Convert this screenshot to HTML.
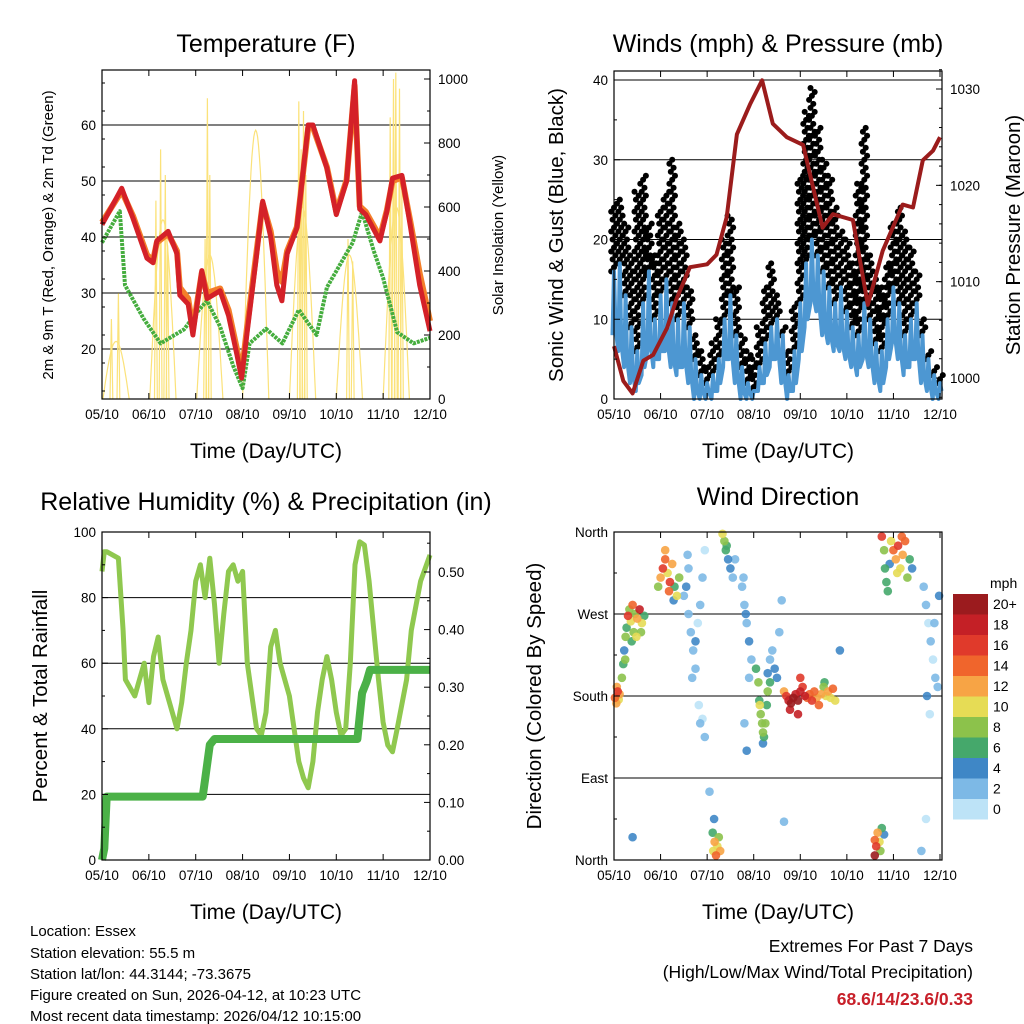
<!DOCTYPE html>
<html><head><meta charset="utf-8">
<style>
html,body{margin:0;padding:0;background:#fff;}
svg{display:block;font-family:"Liberation Sans",Arial,sans-serif;}
</style></head>
<body>
<svg id="s" width="1024" height="1024" viewBox="0 0 1024 1024">
<rect width="1024" height="1024" fill="#fff"/>
<g id="g"></g>
<text x="266" y="52" font-size="25" text-anchor="middle">Temperature (F)</text>
<text x="778" y="52" font-size="25" text-anchor="middle">Winds (mph) &amp; Pressure (mb)</text>
<text x="266" y="510" font-size="25" text-anchor="middle">Relative Humidity (%) &amp; Precipitation (in)</text>
<text x="778" y="505" font-size="25" text-anchor="middle">Wind Direction</text>
<text x="266" y="458" font-size="21" text-anchor="middle">Time (Day/UTC)</text>
<text x="778" y="458" font-size="21" text-anchor="middle">Time (Day/UTC)</text>
<text x="266" y="919" font-size="21" text-anchor="middle">Time (Day/UTC)</text>
<text x="778" y="919" font-size="21" text-anchor="middle">Time (Day/UTC)</text>
<text transform="translate(53,235) rotate(-90)" font-size="15" text-anchor="middle">2m &amp; 9m T (Red, Orange) &amp; 2m Td (Green)</text>
<text transform="translate(503,235) rotate(-90)" font-size="15" text-anchor="middle">Solar Insolation (Yellow)</text>
<text transform="translate(563,235) rotate(-90)" font-size="20.5" text-anchor="middle">Sonic Wind &amp; Gust (Blue, Black)</text>
<text transform="translate(1020,235) rotate(-90)" font-size="20.5" text-anchor="middle">Station Pressure (Maroon)</text>
<text transform="translate(47,696) rotate(-90)" font-size="20.5" text-anchor="middle">Percent &amp; Total Rainfall</text>
<text transform="translate(541,696) rotate(-90)" font-size="20.5" text-anchor="middle">Direction (Colored By Speed)</text>
<g font-size="15">
<text x="30" y="936">Location: Essex</text>
<text x="30" y="958">Station elevation: 55.5 m</text>
<text x="30" y="979">Station lat/lon: 44.3144; -73.3675</text>
<text x="30" y="1000">Figure created on Sun, 2026-04-12, at 10:23 UTC</text>
<text x="30" y="1021">Most recent data timestamp: 2026/04/12 10:15:00</text>
</g>
<g font-size="17.5" text-anchor="end">
<text x="973" y="952">Extremes For Past 7 Days</text>
<text x="973" y="978">(High/Low/Max Wind/Total Precipitation)</text>
<text x="973" y="1005" fill="#c8202a" font-weight="bold">68.6/14/23.6/0.33</text>
</g>
</svg>
<script>
// ---------- DATA ----------
const dayLabels=["05/10","06/10","07/10","08/10","09/10","10/10","11/10","12/10"];
const tempT=[0,0.42,0.66,0.96,1.09,1.17,1.41,1.6,1.66,1.84,1.94,2.13,2.24,2.52,2.7,2.88,2.98,3.09,3.3,3.43,3.6,3.73,3.84,3.95,4.16,4.4,4.5,4.8,5.0,5.22,5.39,5.5,5.63,5.93,6.08,6.2,6.4,6.58,6.78,7.0];
const temp2m=[42.2,48.7,43.4,36.2,35.4,39.3,41,37,29.6,28,22.5,34,29,30.4,26,19,14.8,22.5,36.8,46.4,40,31.4,28.6,37,41.6,60,60,52.3,44,50,67.9,45,44,39.3,44.6,50.5,51,42,31.4,23.2];
const temp9m=[42.6,48.2,43.8,36.8,35.8,39.0,40.6,37.5,31,29,23.5,33.6,30,30.8,27,20,15.5,23.5,37.5,46,41,34,32,37.5,41.8,59.5,59.6,52.5,44.5,50.2,67,45.5,44.5,40,44.8,50,50.6,42.8,33.5,25];
const dewT=[0,0.38,0.49,0.67,0.89,1.25,1.75,2.04,2.24,2.52,2.8,3.0,3.15,3.5,3.85,4.2,4.58,4.8,5.35,5.55,5.8,6.0,6.3,6.65,7.0];
const dewPt=[39,44.6,31.4,28.7,25.4,21,23.5,26.7,28.6,24,17,13,21,23.6,21,27,22.5,31,39,44.5,37.5,32.7,23,21,22];
const solarBumpT=[0.3,1.3,2.3,3.28,4.28,5.28,6.28];
const solarBumpPk=[180,560,450,840,600,450,600];
const solarSpikeT=[0.2,0.35,1.15,1.25,1.35,1.4,2.2,2.25,2.3,4.2,4.25,4.3,4.35,5.25,5.35,6.15,6.22,6.27,6.35,6.4];
const solarSpikeV=[250,330,620,780,700,480,500,940,700,930,780,900,700,500,430,880,1000,1020,970,650];
const windT=[0,0.125,0.25,0.375,0.5,0.625,0.75,0.875,1,1.125,1.25,1.375,1.5,1.625,1.75,1.875,2,2.125,2.25,2.375,2.5,2.625,2.75,2.875,3,3.125,3.25,3.375,3.5,3.625,3.75,3.875,4,4.125,4.25,4.375,4.5,4.625,4.75,4.875,5,5.125,5.25,5.375,5.5,5.625,5.75,5.875,6,6.125,6.25,6.375,6.5,6.625,6.75,6.875,7];
const windHi=[16,17,13,9,6,12,16,10,13,15,12,10,12,9,5,3,2,3,5,10,13,8,4,2,1,4,7,9,10,8,3,6,12,17,20,18,16,14,12,14,11,9,8,12,10,7,6,10,14,12,8,10,12,8,5,3,2];
const windLo=[8,6,4,2,1,3,6,4,5,6,4,3,4,2,0,0,0,0,1,4,5,2,0,0,0,1,2,4,5,2,0,1,5,9,12,11,8,7,6,6,5,4,3,5,4,2,1,4,7,5,3,4,5,2,1,0,0];
const gustHi=[24,25,22,18,26,28,22,18,24,26,30,22,20,14,8,6,4,7,10,20,23,14,8,6,5,9,14,17,13,9,6,12,28,36,39,34,30,28,24,21,20,17,27,34,18,15,14,17,22,24,21,19,16,10,6,4,3];
const presT=[0,0.2,0.4,0.63,0.84,1.14,1.35,1.63,2.0,2.2,2.42,2.64,2.92,3.18,3.41,3.71,4.06,4.48,4.7,5.13,5.45,5.77,6.2,6.42,6.63,6.85,7.0];
const presMb=[1003.3,999.7,998.4,1001.8,1002.4,1005.2,1008.3,1011.5,1011.8,1012.8,1016.7,1025.3,1028.4,1030.9,1026.4,1025,1024.2,1015.6,1017,1016.4,1007.6,1013.2,1018,1017.7,1022.6,1023.6,1025];
const rhT=[0,0.05,0.1,0.35,0.45,0.5,0.7,0.9,1.0,1.1,1.2,1.3,1.4,1.5,1.6,1.7,1.8,1.9,2.0,2.1,2.2,2.3,2.4,2.5,2.6,2.7,2.8,2.9,3.0,3.1,3.2,3.3,3.4,3.5,3.6,3.7,3.8,4.0,4.1,4.2,4.3,4.4,4.5,4.6,4.7,4.8,4.9,5.0,5.1,5.2,5.3,5.4,5.5,5.6,5.7,5.8,5.9,6.0,6.1,6.2,6.3,6.5,6.6,6.8,7.0];
const rhVal=[88,94,94,92,70,55,50,60,48,62,68,55,50,45,40,48,60,70,85,90,80,92,78,60,75,88,90,85,88,60,50,40,38,45,65,70,60,50,40,30,25,22,30,45,55,62,55,45,38,40,60,90,97,96,85,70,55,42,35,33,40,55,70,85,93];
const rainT=[0,0.05,0.1,2.15,2.2,2.3,2.4,5.45,5.5,5.55,5.65,5.72,7.0];
const rainIn=[0,0.02,0.11,0.11,0.14,0.2,0.21,0.21,0.25,0.29,0.31,0.33,0.33];
const dirT=[0.02,0.05,0.08,0.10,0.06,0.12,0.17,0.20,0.22,0.25,0.27,0.24,0.30,0.33,0.36,0.40,0.45,0.50,0.55,0.60,0.65,0.42,0.38,0.48,0.58,0.95,1.0,1.05,1.1,1.15,1.2,1.25,1.3,1.35,1.4,1.10,1.18,1.28,1.5,1.55,1.6,1.65,1.7,1.75,1.8,1.85,1.9,1.95,1.6,1.75,1.68,1.58,1.85,1.82,1.95,1.9,2.33,2.37,2.40,2.45,2.5,2.42,2.55,2.6,2.75,2.8,2.85,2.9,2.95,2.78,2.9,2.83,2.8,2.85,3.05,3.10,3.12,3.15,3.18,3.20,3.22,3.25,3.28,3.3,3.35,3.13,3.2,3.35,3.40,3.45,3.5,3.55,3.6,3.3,3.65,3.7,3.75,3.8,3.85,3.9,3.95,4.0,4.05,4.1,4.15,4.2,4.25,4.3,4.35,4.4,4.45,4.5,4.55,4.6,4.65,4.7,4.75,3.78,3.95,4.0,4.52,4.85,5.75,5.8,5.82,5.85,5.88,5.92,6.0,6.05,6.1,6.15,6.2,6.25,6.3,6.35,6.4,5.95,6.18,6.08,6.65,6.7,6.75,6.8,6.85,6.9,6.95,6.72,6.88,6.98,6.78,2.13,2.16,2.19,2.22,2.25,2.12,2.15,2.28,0.4,2.05,5.6,5.63,5.66,5.7,5.72,5.75,5.8,5.6,6.6,6.7,3.65];
const dirDeg=[178,172,185,176,190,182,200,215,230,245,255,220,268,275,262,280,270,265,275,260,268,250,240,245,250,300,310,320,330,315,305,325,300,290,310,340,295,285,290,300,270,250,230,210,260,280,310,340,320,240,200,335,150,170,135,155,358,350,340,330,320,345,310,330,300,280,260,240,220,310,200,270,150,120,210,195,175,160,150,140,135,150,170,185,195,170,128,220,230,210,200,250,285,205,185,180,175,172,178,182,175,185,190,180,178,182,175,185,178,170,182,190,180,185,178,188,175,165,160,200,195,230,355,340,320,305,295,325,340,330,345,320,335,350,310,330,320,350,355,315,300,280,260,240,220,200,190,180,260,290,160,10,20,5,15,25,30,45,10,25,75,5,15,30,20,10,35,28,22,10,45,42];
const dirMph=[14,12,16,10,13,12,8,6,4,8,6,8,16,8,10,14,8,12,18,10,6,8,6,10,8,8,12,16,14,10,16,12,6,10,8,12,14,4,2,4,2,2,2,2,0,2,2,0,2,4,2,2,2,0,2,0,10,8,6,4,4,6,2,2,2,2,2,4,2,2,2,4,2,4,6,8,6,8,8,8,6,8,6,8,6,10,4,2,2,4,4,2,2,4,12,16,18,20,20,18,20,18,16,18,14,14,16,14,12,14,12,8,10,12,10,14,10,18,18,16,6,4,16,8,6,6,6,4,14,12,16,10,12,14,8,6,4,10,14,10,2,2,0,2,0,2,2,4,2,4,0,10,12,14,10,8,6,4,12,4,2,20,16,12,10,8,6,4,14,2,0,2];
const cbLabels=["20+","18","16","14","12","10","8","6","4","2","0"];
const cbColors=["#9b1b1e","#c42026","#e03a2b","#f0652c","#f7a445","#e6dc55","#8cc24b","#45a86b","#3f87c6","#7db9e6","#bde3f7"];

// ---------- DRAWING ----------
const NS="http://www.w3.org/2000/svg";
const G=document.getElementById('g');
function el(tag,attrs,parent){const e=document.createElementNS(NS,tag);for(const k in attrs)e.setAttribute(k,attrs[k]);(parent||G).appendChild(e);return e;}
function lin(d0,d1,r0,r1){return v=>r0+(v-d0)*(r1-r0)/(d1-d0);}
function pathOf(xs,ys,fx,fy){return xs.map((t,i)=>(i?'L':'M')+fx(t).toFixed(1)+','+fy(ys[i]).toFixed(1)).join('');}

function frame(x0,y0,x1,y1,name){
  const r=el('rect',{x:x0,y:y0,width:x1-x0,height:y1-y0,fill:'none',stroke:'#000','stroke-width':1.2});
  
}
function xAxis(fx,y0,y1,name){
  const g=el('g',{});
  dayLabels.forEach((lb,i)=>{const x=fx(i);
    el('line',{x1:x,x2:x,y1:y1,y2:y1-6,stroke:'#000'},g);el('line',{x1:x,x2:x,y1:y0,y2:y0+6,stroke:'#000'},g);
    const t=el('text',{x:x,y:y1+20,'font-size':13.5,'text-anchor':'middle'},g);t.textContent=lb;});
}
function yAxis(vals,fy,x,side,fmt,name,minor){
  const g=el('g',{});
  const dir=side==='l'?1:-1;
  vals.forEach(v=>{const y=fy(v);el('line',{x1:x,x2:x+dir*6,y1:y,y2:y,stroke:'#000'},g);
    const t=el('text',{x:side==='l'?x-6:x+8,y:y+5,'font-size':13.5,'text-anchor':side==='l'?'end':'start'},g);t.textContent=fmt(v);});
  (minor||[]).forEach(v=>{const y=fy(v);el('line',{x1:x,x2:x+dir*3,y1:y,y2:y,stroke:'#000'},g);});
}
function grid(vals,fy,x0,x1,name){
  const g=el('g',{});
  vals.forEach(v=>{const y=fy(v);el('line',{x1:x0,x2:x1,y1:y,y2:y,stroke:'#000','stroke-width':1},g);});
}
function range(a,b,s){const r=[];for(let v=a;v<=b+1e-9;v+=s)r.push(+v.toFixed(4));return r;}

// ===== Panel 1: Temperature =====
{
const fx=lin(0,7,102,430), fy=lin(20,60,349,125), fs=lin(0,1000,399,79);
grid([20,30,40,50,60],fy,102,430,'temp-gridlines');
const sol=el('g',{});
solarBumpT.forEach((t,i)=>{const pts=[];for(let k=-14;k<=14;k++){const dt=k*0.02;const v=solarBumpPk[i]*Math.max(0,Math.cos(dt/0.28*Math.PI/2));pts.push(fx(t+dt).toFixed(1)+','+fs(v).toFixed(1));}
  const p=el('polyline',{points:pts.join(' '),fill:'none',stroke:'#fbe27a','stroke-width':1.2},sol);
  });
solarSpikeT.forEach((t,i)=>{const pts=[fx(t-0.03),fs(0),fx(t),fs(solarSpikeV[i]),fx(t+0.03),fs(0)];
  const p=el('polyline',{points:pts[0].toFixed(1)+','+pts[1].toFixed(1)+' '+pts[2].toFixed(1)+','+pts[3].toFixed(1)+' '+pts[4].toFixed(1)+','+pts[5].toFixed(1),fill:'none',stroke:'#fbe27a','stroke-width':1.2},sol);
  });
const dp=el('path',{d:pathOf(dewT,dewPt,fx,fy),fill:'none',stroke:'#45ad3e','stroke-width':4,'stroke-dasharray':'3 1','stroke-linejoin':'round'});

const o=el('path',{d:pathOf(tempT,temp9m,fx,fy),fill:'none',stroke:'#f47f2a','stroke-width':6,'stroke-linejoin':'round'});

const r=el('path',{d:pathOf(tempT,temp2m,fx,fy),fill:'none',stroke:'#d42128','stroke-width':5,'stroke-linejoin':'round'});

frame(102,70,430,399,'temp');
xAxis(fx,70,399,'temp');
yAxis([20,30,40,50,60],fy,102,'l',v=>v,'temp-y-ticks',range(12.5,67.5,5));
yAxis([0,200,400,600,800,1000],fs,430,'r',v=>v,'solar-y-ticks',range(100,900,200));
}
// ===== Panel 2: Winds =====
{
const fx=lin(0,7,614,940), fy=lin(0,40,399,80), fp=lin(1000,1030,378,89);
grid([10,20,30,40],fy,614,942,'wind-gridlines');
const gb=el('g',{});
windT.forEach((t,i)=>{const hi=gustHi[i],lo=windHi[i];let k=0;for(let v=lo;v<=hi;v+=0.5){const x=fx(t)+((k*7)%5-2)*1.4;k++;const c=el('circle',{cx:x.toFixed(1),cy:fy(v).toFixed(1),r:3,fill:'#000'},gb);}});
let zz='';windT.forEach((t,i)=>{zz+=(i?'L':'M')+(fx(t)-1.5).toFixed(1)+','+fy(windLo[i]).toFixed(1)+'L'+fx(t).toFixed(1)+','+fy(windHi[i]).toFixed(1)+'L'+(fx(t)+1.5).toFixed(1)+','+fy(windLo[i]+1).toFixed(1);});
const wl=el('path',{d:zz,fill:'none',stroke:'#4d97d2','stroke-width':4,'stroke-linejoin':'round'});

const pl=el('path',{d:pathOf(presT,presMb,fx,fp),fill:'none',stroke:'#9b1c1c','stroke-width':4,'stroke-linejoin':'round'});

frame(614,71,942,399,'wind');
xAxis(fx,71,399,'wind');
yAxis([0,10,20,30,40],fy,614,'l',v=>v,'wind-y-ticks',range(5,35,10));
yAxis([1000,1010,1020,1030],fp,942,'r',v=>v,'pressure-y-ticks',range(998,1032,2));
}
// ===== Panel 3: RH =====
{
const fx=lin(0,7,102,430), fy=lin(0,100,860,532), fr=lin(0,0.5,860,572);
grid([20,40,60,80],fy,102,430,'rh-gridlines');
const rl=el('path',{d:pathOf(rhT,rhVal,fx,fy),fill:'none',stroke:'#8fc84f','stroke-width':5,'stroke-linejoin':'round'});

const pl=el('path',{d:pathOf(rainT,rainIn,fx,fr),fill:'none',stroke:'#4bb147','stroke-width':8,'stroke-linejoin':'round'});

frame(102,532,430,860,'rh');
xAxis(fx,532,860,'rh');
yAxis([0,20,40,60,80,100],fy,102,'l',v=>v,'rh-y-ticks',range(10,90,20));
yAxis([0,0.1,0.2,0.3,0.4,0.5],fr,430,'r',v=>v.toFixed(2),'rain-y-ticks',range(0.05,0.55,0.1));
}
// ===== Panel 4: Wind direction =====
{
const fx=lin(0,7,614,940), fy=lin(0,360,860,532);
grid([90,180,270],fy,614,942,'direction-gridlines');
const g=el('g',{});
function col(m){let k=Math.min(10,Math.floor(m/2));return cbColors[10-k];}
const idx=dirT.map((_,i)=>i).sort((a,b)=>dirMph[a]-dirMph[b]);
idx.forEach(i=>{const c=el('circle',{cx:fx(dirT[i]).toFixed(1),cy:fy(dirDeg[i]).toFixed(1),r:4.3,fill:col(dirMph[i]),'fill-opacity':0.9},g);
  });
frame(614,532,942,860,'dir');
xAxis(fx,532,860,'dir');
yAxis([0,90,180,270,360],fy,614,'l',v=>({0:'North',90:'East',180:'South',270:'West',360:'North'})[v],'dir-y-ticks',[45,135,225,315]);
const cb=el('g',{});
const ct=el('text',{x:990,y:588,'font-size':14},cb);ct.textContent='mph';
cbColors.forEach((c,i)=>{const y=594+i*20.5;const r=el('rect',{x:953,y:y,width:35,height:20.5,fill:c},cb);
  const t=el('text',{x:993,y:y+15,'font-size':14},cb);t.textContent=cbLabels[i];});
}
</script>
</body></html>
